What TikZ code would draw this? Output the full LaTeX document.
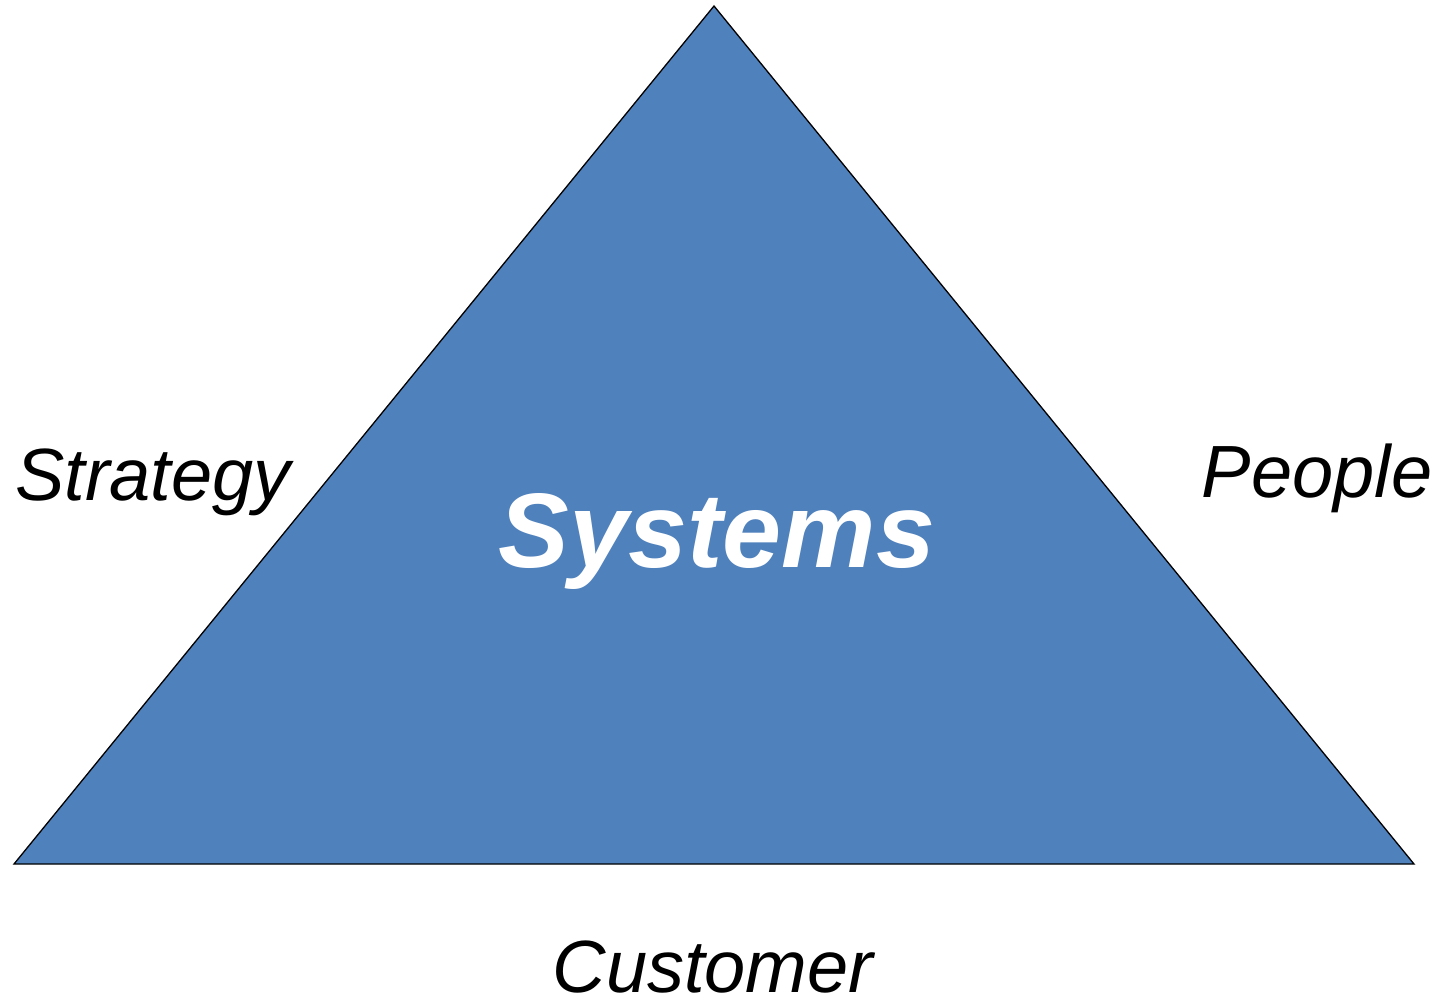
\documentclass[tikz,border=0pt]{standalone}
\usepackage{fontspec}
\setmainfont{Liberation Sans}
\definecolor{triblue}{HTML}{4F81BD}
\begin{document}
\begin{tikzpicture}[x=1pt,y=-1pt,
  lbl/.style={font=\fontsize{74}{80}\selectfont\itshape, anchor=base, inner sep=0pt},
  tri/.style={fill=triblue, draw=black, line width=1.3pt, line join=miter}]
\useasboundingbox (0,0) rectangle (1439,1000);
\coordinate (apex) at (714,6);
\coordinate (bl) at (14,864);
\coordinate (br) at (1414,864);
\draw[tri] (apex) -- (br) -- (bl) -- cycle;
\node[anchor=base, inner sep=0pt, text=white, font=\fontsize{106}{110}\selectfont\bfseries\itshape] (sys) at (717,567) {Systems};
\node[lbl] (strat) at (153,500) {Strategy};
\node[lbl] (people) at (1317,497) {People};
\node[lbl] (cust) at (713,992) {Customer};
\end{tikzpicture}
\end{document}
